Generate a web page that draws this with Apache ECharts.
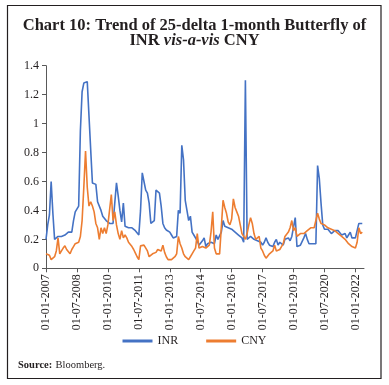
<!DOCTYPE html>
<html>
<head>
<meta charset="utf-8">
<script src="https://cdn.jsdelivr.net/npm/echarts@6/dist/echarts.min.js"></script>
<style>
html,body{margin:0;padding:0;background:#fff;}
#c{width:389px;height:385px;}
</style>
</head>
<body>
<div id="c"></div>
<script>
// Monthly observations, Jan 2007 .. May 2022 (axis runs to Jun 2022)
var startYear = 2007;
var monthCount = 186;
var tickLabels = ["01-01-2007","01-07-2008","01-01-2010","01-07-2011","01-01-2013","01-07-2014","01-01-2016","01-07-2017","01-01-2019","01-07-2020","01-01-2022"];
var seriesNames = ["INR", "CNY"];

var inr = [
0.20,0.30,0.37,0.60,0.38,0.20,0.20,0.22,0.22,0.22,0.23,0.23,0.23,0.25,0.25,0.25,0.33,0.39,0.38,0.43,
0.95,1.22,1.28,1.29,1.29,1.28,0.82,0.59,0.58,0.58,0.46,0.46,0.40,0.36,0.36,0.33,0.33,0.31,0.30,0.31,
0.45,0.59,0.50,0.40,0.32,0.45,0.29,0.28,0.28,0.27,0.28,0.27,0.26,0.25,0.23,0.40,0.66,0.60,0.54,0.52,
0.45,0.31,0.32,0.33,0.54,0.53,0.52,0.43,0.31,0.28,0.265,0.26,0.25,0.23,0.21,0.21,0.22,0.40,0.38,0.85,
0.75,0.47,0.40,0.33,0.36,0.25,0.23,0.23,0.19,0.16,0.15,0.19,0.21,0.15,0.17,0.18,0.18,0.19,0.17,0.23,
0.20,0.19,0.25,0.33,0.29,0.29,0.28,0.27,0.27,0.27,0.25,0.25,0.23,0.22,0.21,0.18,1.30,0.20,0.21,0.22,
0.21,0.20,0.19,0.19,0.196,0.18,0.16,0.18,0.21,0.18,0.16,0.15,0.15,0.18,0.20,0.16,0.18,0.19,0.16,0.20,
0.21,0.21,0.19,0.22,0.21,0.35,0.15,0.16,0.16,0.17,0.21,0.24,0.20,0.17,0.17,0.17,0.17,0.17,0.71,0.62,
0.45,0.30,0.27,0.28,0.27,0.26,0.24,0.25,0.26,0.27,0.26,0.25,0.23,0.24,0.24,0.21,0.23,0.25,0.21,0.21,
0.21,0.26,0.31,0.31,0.31
];

var cny = [
0.10,0.10,0.09,0.06,0.07,0.08,0.12,0.21,0.10,0.12,0.14,0.155,0.13,0.12,0.10,0.13,0.15,0.17,0.16,0.18,
0.22,0.33,0.56,0.81,0.56,0.43,0.46,0.43,0.39,0.31,0.28,0.20,0.28,0.24,0.28,0.24,0.30,0.31,0.51,0.33,
0.39,0.30,0.24,0.20,0.26,0.21,0.23,0.21,0.18,0.17,0.15,0.13,0.105,0.08,0.06,0.155,0.16,0.16,0.15,0.12,
0.08,0.09,0.10,0.10,0.11,0.13,0.13,0.12,0.16,0.11,0.08,0.06,0.06,0.06,0.06,0.08,0.10,0.22,0.17,0.14,
0.10,0.08,0.07,0.06,0.08,0.10,0.12,0.14,0.24,0.14,0.15,0.15,0.14,0.14,0.15,0.16,0.25,0.39,0.14,0.10,
0.10,0.10,0.11,0.47,0.42,0.38,0.32,0.30,0.34,0.48,0.42,0.39,0.36,0.30,0.24,0.22,0.20,0.24,0.30,0.35,
0.31,0.24,0.20,0.19,0.22,0.14,0.12,0.09,0.07,0.08,0.10,0.11,0.12,0.16,0.12,0.11,0.13,0.15,0.17,0.22,
0.22,0.25,0.28,0.33,0.26,0.28,0.22,0.23,0.24,0.23,0.24,0.25,0.26,0.27,0.28,0.27,0.28,0.29,0.38,0.34,
0.31,0.30,0.30,0.29,0.28,0.28,0.27,0.26,0.26,0.25,0.24,0.23,0.22,0.21,0.20,0.19,0.17,0.16,0.15,0.15,
0.14,0.18,0.28,0.24,0.25
];

var categories = [];
for (var i = 0; i < monthCount; i++) {
  var y = startYear + Math.floor(i / 12);
  var m = (i % 12) + 1;
  categories.push("01-" + (m < 10 ? "0" + m : "" + m) + "-" + y);
}

var serif = "Liberation Serif";
var chart = echarts.init(document.getElementById('c'));
chart.setOption({
  animation: false,
  backgroundColor: '#fff',
  title: {
    left: 'center',
    top: 13.5,
    text: '{b|Chart 10: Trend of 25-delta 1-month Butterfly of}\n{b|INR }{i|vis-a-vis}{b| CNY}',
    textStyle: {
      rich: {
        b: {fontFamily: serif, fontWeight: 'bold', fontSize: 16.5, color: '#231f20', lineHeight: 15},
        i: {fontFamily: serif, fontWeight: 'bold', fontStyle: 'italic', fontSize: 16.5, color: '#231f20', lineHeight: 15}
      }
    }
  },
  legend: {
    data: seriesNames,
    bottom: 33,
    left: 'center',
    itemWidth: 30,
    itemHeight: 3,
    itemGap: 28,
    icon: 'rect',
    textStyle: {fontFamily: serif, fontSize: 12, color: '#231f20'}
  },
  grid: {left: 46, right: 25, top: 65.7, bottom: 116.7, containLabel: false},
  xAxis: {
    type: 'category',
    data: categories,
    boundaryGap: false,
    axisLine: {lineStyle: {color: '#595959', width: 1}},
    axisTick: {show: true, interval: 17, length: 4, lineStyle: {color: '#595959'}},
    axisLabel: {
      interval: 17,
      rotate: 90,
      margin: 6,
      fontFamily: serif,
      fontSize: 12,
      color: '#231f20'
    },
    splitLine: {show: false}
  },
  yAxis: {
    type: 'value',
    min: 0,
    max: 1.4,
    interval: 0.2,
    axisLine: {show: true, lineStyle: {color: '#595959', width: 1}},
    axisTick: {show: true, length: 4, lineStyle: {color: '#595959'}},
    axisLabel: {
      fontFamily: serif, fontSize: 12, color: '#231f20', margin: 7,
      formatter: function (v) { return String(Math.round(v * 10) / 10); }
    },
    splitLine: {show: false}
  },
  series: [
    {name: seriesNames[0], type: 'line', data: inr, symbol: 'none', lineStyle: {color: '#4472c4', width: 1.6}, itemStyle: {color: '#4472c4'}, z: 2},
    {name: seriesNames[1], type: 'line', data: cny, symbol: 'none', lineStyle: {color: '#ed7d31', width: 1.6}, itemStyle: {color: '#ed7d31'}, z: 3}
  ],
  graphic: [
    {type: 'rect', shape: {x: 7.5, y: 5.5, width: 373.5, height: 373}, style: {fill: 'none', stroke: '#231f20', lineWidth: 1.2}, silent: true},
    {type: 'text', left: 18, top: 359, style: {
      text: '{b|Source:} {r|Bloomberg.}',
      rich: {
        b: {fontFamily: serif, fontWeight: 'bold', fontSize: 10.5, fill: '#231f20'},
        r: {fontFamily: serif, fontSize: 10.5, fill: '#231f20'}
      }
    }}
  ]
});
</script>
</body>
</html>
